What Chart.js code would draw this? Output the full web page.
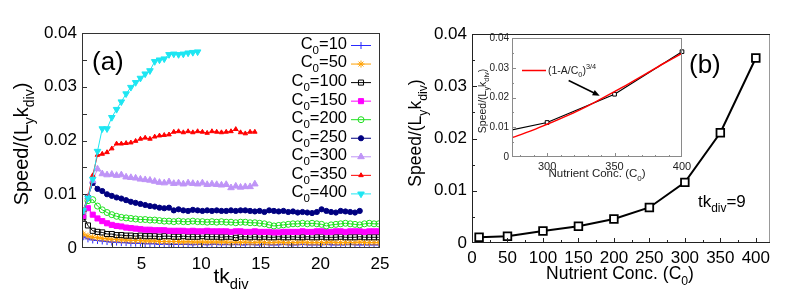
<!DOCTYPE html>
<html>
<head>
<meta charset="utf-8">
<script src="https://cdn.jsdelivr.net/npm/chart.js@4.4.1/dist/chart.umd.min.js"></script>
<style>
  body { margin: 0; background: #fff; }
  #wrap { position: relative; width: 789px; height: 299px; }
  canvas { position: absolute; }
</style>
</head>
<body>
<div id="wrap">
  <canvas id="left" width="400" height="299" style="left:0;top:0;width:400px;height:299px"></canvas>
  <canvas id="right" width="389" height="299" style="left:400px;top:0;width:389px;height:299px"></canvas>
  <canvas id="inset" width="230" height="160" style="left:470px;top:25px;width:230px;height:160px"></canvas>
</div>
<script>
// ---- panel (a): speed vs time for each nutrient concentration ----
const concs = [10, 50, 100, 150, 200, 250, 300, 350, 400];
const times = [0.1,0.5,0.9,1.3,1.7,2.1,2.5,2.9,3.3,3.7,4.1,4.5,4.9,5.3,5.7,6.1,6.5,6.9,7.3,7.7,
  8.1,8.5,8.9,9.3,9.7,10.1,10.5,10.9,11.3,11.7,12.1,12.5,12.9,13.3,13.7,14.1,14.5,14.9,15.3,15.7,
  16.1,16.5,16.9,17.3,17.7,18.1,18.5,18.9,19.3,19.7,20.1,20.5,20.9,21.3,21.7,22.1,22.5,22.9,23.3,23.7,
  24.1,24.5,24.9];

const c10 = [0.0021,0.0017,0.0015,0.0014,0.0013,0.0012,0.0011,0.0011,0.0010,0.0010,
  0.0009,0.0009,0.0009,0.0008,0.0008,0.0008,0.0007,0.0008,0.0007,0.0007,
  0.0007,0.0007,0.0007,0.0006,0.0007,0.0007,0.0006,0.0007,0.0007,0.0006,
  0.0007,0.0006,0.0007,0.0006,0.0006,0.0007,0.0006,0.0006,0.0007,0.0006,
  0.0006,0.0006,0.0007,0.0006,0.0006,0.0006,0.0007,0.0006,0.0006,0.0006,
  0.0006,0.0007,0.0006,0.0006,0.0006,0.0006,0.0007,0.0006,0.0006,0.0006,
  0.0006,0.0006,0.0006];
const c50 = [0.0026,0.0022,0.0020,0.0019,0.0018,0.0017,0.0016,0.0016,0.0015,0.0015,
  0.0014,0.0014,0.0014,0.0013,0.0013,0.0013,0.0012,0.0012,0.0012,0.0012,
  0.0012,0.0011,0.0012,0.0011,0.0011,0.0011,0.0011,0.0011,0.0011,0.0011,
  0.0011,0.0010,0.0011,0.0010,0.0011,0.0010,0.0010,0.0011,0.0010,0.0010,
  0.0010,0.0011,0.0010,0.0010,0.0010,0.0010,0.0011,0.0010,0.0010,0.0010,
  0.0010,0.0010,0.0011,0.0010,0.0010,0.0010,0.0010,0.0010,0.0011,0.0010,
  0.0010,0.0010,0.0010];
const c100 = [0.0057,0.0042,0.0032,0.0030,0.0029,0.0026,0.0026,0.0024,0.0024,0.0023,
  0.0023,0.0022,0.0023,0.0022,0.0022,0.0022,0.0021,0.0022,0.0022,0.0021,
  0.0021,0.0022,0.0021,0.0021,0.0021,0.0022,0.0021,0.0021,0.0021,0.0020,
  0.0021,0.0021,0.0019,0.0021,0.0021,0.0020,0.0021,0.0020,0.0021,0.0020,
  0.0020,0.0021,0.0020,0.0020,0.0021,0.0020,0.0020,0.0021,0.0020,0.0020,
  0.0021,0.0020,0.0020,0.0020,0.0021,0.0020,0.0020,0.0020,0.0021,0.0020,
  0.0020,0.0020,0.0020];
const c150 = [0.0060,0.0074,0.0062,0.0055,0.0050,0.0046,0.0043,0.0041,0.0040,0.0038,
  0.0037,0.0036,0.0035,0.0034,0.0034,0.0033,0.0033,0.0033,0.0032,0.0032,
  0.0032,0.0032,0.0031,0.0032,0.0031,0.0031,0.0032,0.0031,0.0031,0.0031,
  0.0031,0.0030,0.0031,0.0031,0.0030,0.0030,0.0031,0.0030,0.0030,0.0030,
  0.0029,0.0029,0.0030,0.0030,0.0030,0.0030,0.0031,0.0030,0.0030,0.0031,
  0.0031,0.0030,0.0030,0.0031,0.0031,0.0030,0.0031,0.0031,0.0031,0.0030,
  0.0031,0.0031,0.0031];
const c200 = [0.0068,0.0088,0.0090,0.0078,0.0071,0.0066,0.0062,0.0059,0.0057,0.0056,
  0.0055,0.0054,0.0053,0.0053,0.0052,0.0052,0.0051,0.0050,0.0050,0.0049,
  0.0050,0.0049,0.0049,0.0050,0.0049,0.0049,0.0048,0.0049,0.0048,0.0049,
  0.0048,0.0048,0.0047,0.0048,0.0048,0.0047,0.0047,0.0046,0.0045,0.0043,
  0.0041,0.0042,0.0043,0.0044,0.0045,0.0045,0.0046,0.0045,0.0046,0.0045,
  0.0044,0.0041,0.0043,0.0044,0.0045,0.0046,0.0045,0.0044,0.0043,0.0045,
  0.0046,0.0045,0.0045];
const c250 = [0.0068,0.0095,0.0121,0.0110,0.0106,0.0100,0.0097,0.0094,0.0092,0.0089,
  0.0086,0.0084,0.0082,0.0080,0.0078,0.0077,0.0075,0.0074,0.0075,0.0070,
  0.0072,0.0070,0.0069,0.0071,0.0070,0.0069,0.0070,0.0069,0.0070,0.0069,
  0.0069,0.0070,0.0069,0.0070,0.0070,0.0069,0.0068,0.0069,0.0067,0.0070,
  0.0069,0.0068,0.0069,0.0067,0.0068,0.0066,0.0067,0.0066,0.0065,0.0067,
  0.0072,0.0069,0.0067,0.0066,0.0069,0.0068,0.0067,0.0066,0.0069];
const c300 = [0.0068,0.0095,0.0125,0.0147,0.0138,0.0136,0.0137,0.0135,0.0136,0.0132,
  0.0131,0.0130,0.0128,0.0127,0.0126,0.0124,0.0122,0.0121,0.0123,0.0120,
  0.0121,0.0119,0.0121,0.0120,0.0119,0.0121,0.0118,0.0119,0.0118,0.0117,
  0.0118,0.0112,0.0115,0.0113,0.0114,0.0114,0.0119];
const c350 = [0.0070,0.0095,0.0135,0.0173,0.0175,0.0178,0.0185,0.0194,0.0194,0.0195,
  0.0196,0.0199,0.0203,0.0205,0.0203,0.0207,0.0209,0.0210,0.0211,0.0216,
  0.0217,0.0215,0.0217,0.0215,0.0217,0.0216,0.0214,0.0217,0.0216,0.0215,
  0.0216,0.0217,0.0221,0.0215,0.0213,0.0216,0.0216];
const c400 = [0.0070,0.0093,0.0128,0.0180,0.0222,0.0222,0.0243,0.0258,0.0272,0.0287,
  0.0299,0.0308,0.0316,0.0324,0.0330,0.0347,0.0350,0.0352,0.0360,0.0361,
  0.0360,0.0361,0.0363,0.0364,0.0365];
const seriesA = [c10, c50, c100, c150, c200, c250, c300, c350, c400];

// ---- panel (b): speed at tk_div = 9 ----
const concB = [10, 50, 100, 150, 200, 250, 300, 350, 400];
const speedB = [0.0011, 0.0013, 0.0023, 0.0032, 0.0046, 0.0068, 0.0116, 0.0211, 0.0354];
const fitC = [274, 287, 300, 312, 325, 337, 350, 362, 375, 387, 400];
const fitV = [0.0065, 0.0086, 0.0110, 0.0133, 0.0160, 0.0188, 0.0220, 0.0250, 0.0284, 0.0316, 0.0348];

const FONT = "'Liberation Sans', Arial, Helvetica, sans-serif";
Chart.defaults.font.family = FONT;
Chart.defaults.color = '#000';

const styles = [
  { color: '#2a2aff', shape: 'cross', r: 3.5, fill: false },
  { color: '#ffa000', shape: 'star', r: 3.5, fill: false },
  { color: '#000000', shape: 'rect', r: 3.6, fill: false },
  { color: '#ff00ff', shape: 'rect', r: 3.6, fill: true },
  { color: '#1ee01e', shape: 'circle', r: 3, fill: false },
  { color: '#000080', shape: 'circle', r: 2.6, fill: true },
  { color: '#bf94f7', shape: 'triangle', r: 3.8, fill: true },
  { color: '#ff0000', shape: 'triangle', r: 2.6, fill: true },
  { color: '#1ee6f2', shape: 'triangle', r: 3.8, fill: true, rot: 180 }
];

// text with sub/superscripts, y is the middle of normal text
function rich(ctx, parts, x, y, size, align) {
  const sz = k => (k ? size * 0.7 : size);
  let w = 0;
  parts.forEach(([t, k]) => { ctx.font = sz(k) + 'px ' + FONT; w += ctx.measureText(t).width; });
  let cx = align === 'center' ? x - w / 2 : align === 'right' ? x - w : x;
  const base = y + size * 0.36;
  ctx.textAlign = 'left';
  ctx.textBaseline = 'alphabetic';
  parts.forEach(([t, k]) => {
    ctx.font = sz(k) + 'px ' + FONT;
    const dy = k === 'sub' ? size * 0.3 : k === 'sup' ? -size * 0.42 : 0;
    ctx.fillText(t, cx, base + dy);
    cx += ctx.measureText(t).width;
  });
}

function richV(ctx, parts, x, y, size) {
  ctx.save();
  ctx.translate(x, y);
  ctx.rotate(-Math.PI / 2);
  rich(ctx, parts, 0, 0, size, 'center');
  ctx.restore();
}

// inward tick marks drawn through the scales
function ticksIn(ctx, scale, area, from, to, step, len, axis) {
  ctx.beginPath();
  for (let v = from; v <= to + 1e-9; v += step) {
    const p = Math.round(scale.getPixelForValue(v)) + 0.5;
    if (axis === 'x') { ctx.moveTo(p, area.bottom); ctx.lineTo(p, area.bottom - len); }
    else { ctx.moveTo(area.left, p); ctx.lineTo(area.left + len, p); }
  }
  ctx.stroke();
}

function box(ctx, a, color, width) {
  ctx.strokeStyle = color;
  ctx.lineWidth = width;
  ctx.strokeRect(Math.round(a.left) + 0.5, Math.round(a.top) + 0.5,
    Math.round(a.right - a.left) - 1, Math.round(a.bottom - a.top) - 1);
}

function marker(ctx, st, x, y) {
  ctx.strokeStyle = st.color;
  ctx.fillStyle = st.fill ? st.color : 'rgba(0,0,0,0)';
  ctx.lineWidth = 1;
  Chart.helpers.drawPoint(ctx, { pointStyle: st.shape, radius: st.r, rotation: st.rot || 0, borderWidth: 1 }, x, y);
}

const titleY = [['Speed/(L', ''], ['y', 'sub'], ['k', ''], ['div', 'sub'], [')', '']];

// ---------------- left chart ----------------
const leftDecor = {
  id: 'leftDecor',
  afterDraw(chart) {
    const { ctx, chartArea: a, scales: { x, y } } = chart;
    ctx.save();
    box(ctx, a, '#333', 1);
    ctx.strokeStyle = '#333';
    ctx.lineWidth = 1;
    ticksIn(ctx, y, a, 0.005, 0.035, 0.005, 5, 'y');
    ticksIn(ctx, x, a, 2.5, 22.5, 2.5, 5, 'x');

    ctx.fillStyle = '#000';
    richV(ctx, titleY, 21, 144, 20);
    rich(ctx, [['tk', ''], ['div', 'sub']], 231, 275, 21, 'center');
    rich(ctx, [['(a)', '']], 92, 61, 26, 'left');

    concs.forEach((c, i) => {
      const yy = 45 + i * 18.55;
      ctx.fillStyle = '#000';
      rich(ctx, [['C', ''], ['0', 'sub'], ['=' + c, '']], 347, yy - 2, 16.5, 'right');
      ctx.strokeStyle = styles[i].color;
      ctx.lineWidth = 1;
      ctx.beginPath(); ctx.moveTo(351, yy + 0.5); ctx.lineTo(371, yy + 0.5); ctx.stroke();
      marker(ctx, styles[i], 361, yy + 0.5);
    });
    ctx.restore();
  }
};

new Chart(document.getElementById('left'), {
  type: 'line',
  data: {
    datasets: seriesA.map((vals, i) => ({
      label: 'C0=' + concs[i],
      data: vals.map((v, j) => ({ x: times[j], y: v })),
      borderColor: styles[i].color,
      backgroundColor: styles[i].fill ? styles[i].color : 'rgba(0,0,0,0)',
      borderWidth: 1,
      pointStyle: styles[i].shape,
      pointRadius: styles[i].r,
      pointRotation: styles[i].rot || 0,
      pointBorderWidth: 1,
      order: 8 - i
    }))
  },
  options: {
    responsive: false,
    animation: false,
    layout: { padding: { left: 0, right: 20, top: 33, bottom: 0 } },
    plugins: { legend: { display: false }, tooltip: { enabled: false } },
    scales: {
      x: {
        type: 'linear', min: 0, max: 25,
        grid: { display: false, drawTicks: false },
        border: { display: false },
        ticks: { stepSize: 5, padding: 6, font: { size: 17 }, callback: v => (v === 0 ? '' : v) },
        afterFit: s => { s.height = 51; }
      },
      y: {
        min: 0, max: 0.04,
        grid: { display: false, drawTicks: false },
        border: { display: false },
        ticks: { stepSize: 0.01, padding: 5, font: { size: 17 } },
        afterFit: s => { s.width = 82; }
      }
    }
  },
  plugins: [leftDecor]
});

// ---------------- right chart ----------------
const rightDecor = {
  id: 'rightDecor',
  afterDraw(chart) {
    const { ctx, chartArea: a, scales: { x, y } } = chart;
    ctx.save();
    box(ctx, a, '#222', 1);
    ctx.strokeStyle = '#999';
    ctx.beginPath(); ctx.moveTo(Math.round(a.right) - 0.5, a.top + 1); ctx.lineTo(Math.round(a.right) - 0.5, a.bottom - 1); ctx.stroke();
    ctx.strokeStyle = '#222';
    ticksIn(ctx, y, a, 0.01, 0.03, 0.01, 5, 'y');
    ticksIn(ctx, y, a, 0.005, 0.035, 0.01, 3, 'y');
    ticksIn(ctx, x, a, 50, 400, 50, 5, 'x');
    ticksIn(ctx, x, a, 25, 375, 50, 3, 'x');

    ctx.fillStyle = '#000';
    richV(ctx, titleY, 15, 133, 17.5);
    rich(ctx, [['Nutrient Conc. (C', ''], ['0', 'sub'], [')', '']], 220, 273, 17.5, 'center');
    rich(ctx, [['(b)', '']], 289, 64, 26, 'left');
    rich(ctx, [['tk', ''], ['div', 'sub'], ['=9', '']], 298, 201, 17, 'left');
    ctx.restore();
  }
};

new Chart(document.getElementById('right'), {
  type: 'line',
  data: {
    datasets: [{
      data: concB.map((c, i) => ({ x: c, y: speedB[i] })),
      borderColor: '#000',
      backgroundColor: '#fff',
      borderWidth: 2,
      pointStyle: 'rect',
      pointRadius: 5.4,
      pointBorderWidth: 1.8
    }]
  },
  options: {
    responsive: false,
    animation: false,
    layout: { padding: { left: 0, right: 19, top: 34, bottom: 0 } },
    plugins: { legend: { display: false }, tooltip: { enabled: false } },
    scales: {
      x: {
        type: 'linear', min: 0, max: 420,
        grid: { display: false, drawTicks: false },
        border: { display: false },
        ticks: { stepSize: 50, includeBounds: false, padding: 5, font: { size: 17 } },
        afterFit: s => { s.height = 56; }
      },
      y: {
        min: 0, max: 0.04,
        grid: { display: false, drawTicks: false },
        border: { display: false },
        ticks: { stepSize: 0.01, padding: 5, font: { size: 17 } },
        afterFit: s => { s.width = 72; }
      }
    }
  },
  plugins: [rightDecor]
});

// ---------------- inset ----------------
const insetDecor = {
  id: 'insetDecor',
  beforeDatasetsDraw(chart) {
    const { ctx, chartArea: a } = chart;
    ctx.save();
    ctx.fillStyle = '#fff';
    ctx.fillRect(a.left, a.top, a.right - a.left, a.bottom - a.top);
    ctx.restore();
  },
  afterDraw(chart) {
    const { ctx, chartArea: a, scales: { x, y } } = chart;
    ctx.save();
    box(ctx, a, '#8a8a8a', 1);
    ctx.strokeStyle = '#8a8a8a';
    ticksIn(ctx, y, a, 0.01, 0.03, 0.01, 4, 'y');
    ticksIn(ctx, y, a, 0.005, 0.035, 0.01, 2, 'y');
    ticksIn(ctx, x, a, 280, 390, 10, 2, 'x');
    ticksIn(ctx, x, a, 300, 350, 50, 4, 'x');

    ctx.fillStyle = '#222';
    richV(ctx, titleY, 12, 76, 10.5);
    rich(ctx, [['Nutrient Conc. (C', ''], ['0', 'sub'], [')', '']], 127, 148, 11.5, 'center');

    // legend of the fit
    ctx.strokeStyle = '#ff0000';
    ctx.lineWidth = 1.5;
    ctx.beginPath(); ctx.moveTo(52, 45.5); ctx.lineTo(76, 45.5); ctx.stroke();
    rich(ctx, [['(1-A/C', ''], ['0', 'sub'], [')', ''], ['3/4', 'sup']], 78, 45, 10.5, 'left');

    // arrow pointing at the curves
    const x0 = x.getPixelForValue(316), y0 = y.getPixelForValue(0.0257);
    const x1 = x.getPixelForValue(339), y1 = y.getPixelForValue(0.0206);
    const ang = Math.atan2(y1 - y0, x1 - x0);
    ctx.strokeStyle = '#000';
    ctx.fillStyle = '#000';
    ctx.lineWidth = 1.5;
    ctx.beginPath(); ctx.moveTo(x0, y0); ctx.lineTo(x1 - 5 * Math.cos(ang), y1 - 5 * Math.sin(ang)); ctx.stroke();
    ctx.beginPath();
    ctx.moveTo(x1, y1);
    ctx.lineTo(x1 - 7 * Math.cos(ang) + 3 * Math.sin(ang), y1 - 7 * Math.sin(ang) - 3 * Math.cos(ang));
    ctx.lineTo(x1 - 7 * Math.cos(ang) - 3 * Math.sin(ang), y1 - 7 * Math.sin(ang) + 3 * Math.cos(ang));
    ctx.closePath();
    ctx.fill();
    ctx.restore();
  }
};

new Chart(document.getElementById('inset'), {
  type: 'line',
  data: {
    datasets: [
      {
        data: fitC.map((c, i) => ({ x: c, y: fitV[i] })),
        borderColor: '#ff0000',
        borderWidth: 1.5,
        pointRadius: 0,
        cubicInterpolationMode: 'monotone',
        order: 0
      },
      {
        data: concB.map((c, i) => ({ x: c, y: speedB[i] })),
        borderColor: '#000',
        backgroundColor: '#fff',
        borderWidth: 1.2,
        pointStyle: 'rect',
        pointRadius: 2.6,
        pointBorderWidth: 1,
        clip: { left: 0, top: 5, right: 5, bottom: 0 },
        order: 1
      }
    ]
  },
  options: {
    responsive: false,
    animation: false,
    layout: { padding: { left: 0, right: 18, top: 13, bottom: 0 } },
    plugins: { legend: { display: false }, tooltip: { enabled: false } },
    scales: {
      x: {
        type: 'linear', min: 274, max: 400,
        grid: { display: false, drawTicks: false },
        border: { display: false },
        ticks: { stepSize: 50, includeBounds: false, padding: 3, color: '#222', font: { size: 11 } },
        afterFit: s => { s.height = 28; }
      },
      y: {
        min: 0, max: 0.04,
        grid: { display: false, drawTicks: false },
        border: { display: false },
        ticks: { stepSize: 0.01, padding: 3, color: '#222', font: { size: 10 } },
        afterFit: s => { s.width = 42; }
      }
    }
  },
  plugins: [insetDecor]
});
</script>
</body>
</html>
